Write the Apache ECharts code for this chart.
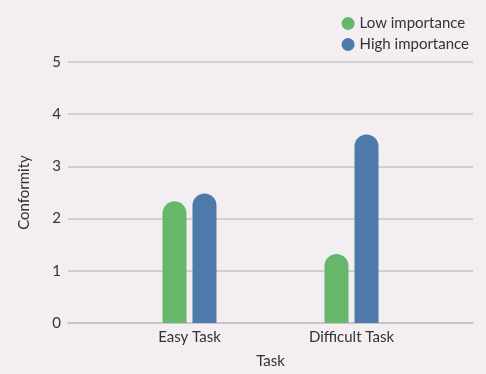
<!DOCTYPE html>
<html><head><meta charset="utf-8">
<script src="https://cdn.jsdelivr.net/npm/echarts@6/dist/echarts.min.js"></script>
<style>html,body{margin:0;padding:0;background:#f2eef2;}#c{width:486px;height:374px;}</style>
</head><body><div id="c"></div>
<script>
const categories = ['', 'Easy Task', '', 'Difficult Task', ''];
const lowImportance = [null, 2.33, null, 1.32, null];
const highImportance = [null, 2.48, null, 3.61, null];
const yTicks = [0, 1, 2, 3, 4, 5];

const chart = echarts.init(document.getElementById('c'), null, {renderer: 'canvas'});
const font = 'Lato, "Open Sans", sans-serif';
chart.setOption({
  backgroundColor: '#f2eef2',
  animation: false,
  textStyle: {fontFamily: font, color: '#333'},
  legend: {
    orient: 'vertical', right: 12, top: 11, itemGap: 6,
    icon: 'circle', itemWidth: 13, itemHeight: 13, itemStyle: {borderWidth: 0},
    textStyle: {fontSize: 15, color: '#333', fontFamily: font},
    data: ['Low importance', 'High importance']
  },
  grid: {left: 68, right: 13, top: 62, bottom: 51},
  xAxis: {
    type: 'category', data: categories,
    name: 'Task', nameLocation: 'middle', nameGap: 31,
    nameTextStyle: {fontSize: 15, color: '#333'},
    axisLine: {lineStyle: {color: '#c8c4c4', width: 1.5}},
    axisTick: {show: false},
    axisLabel: {fontSize: 15, color: '#333', margin: 7, interval: 0}
  },
  yAxis: {
    type: 'value', min: yTicks[0], max: yTicks[yTicks.length - 1], interval: 1,
    name: 'Conformity', nameLocation: 'middle', nameGap: 36,
    nameTextStyle: {fontSize: 15, color: '#333'},
    axisLine: {show: false}, axisTick: {show: false},
    axisLabel: {fontSize: 15, color: '#333', margin: 7},
    splitLine: {lineStyle: {color: '#c8c4c4', width: 1.5}}
  },
  series: [
    {name: 'Low importance', type: 'bar', data: lowImportance, barWidth: 24, barGap: '25%',
     itemStyle: {color: '#66b76a', borderRadius: [12, 12, 0, 0]}},
    {name: 'High importance', type: 'bar', data: highImportance, barWidth: 24, barGap: '25%',
     itemStyle: {color: '#4e79ab', borderRadius: [12, 12, 0, 0]}}
  ]
});
</script></body></html>
